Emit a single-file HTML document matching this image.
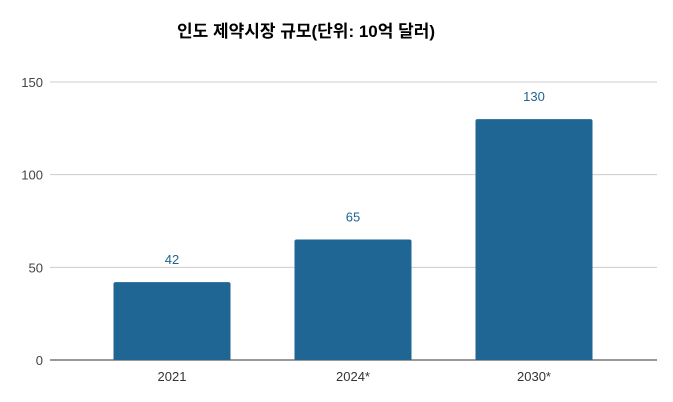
<!DOCTYPE html>
<html><head><meta charset="utf-8">
<style>
body{margin:0;background:#fff;}
svg{display:block;font-family:"Liberation Sans","Noto Sans CJK KR",sans-serif;}
</style></head>
<body>
<svg id="chart" width="673" height="402" viewBox="0 0 673 402">
<text x="306" y="37" text-anchor="middle" font-size="17" font-weight="bold" fill="#000" font-family="'Liberation Sans','Noto Sans CJK KR',sans-serif">인도 제약시장 규모(단위: 10억 달러)</text>
<g id="grid"></g>
<g id="bars"></g>
</svg>
<script>
const categories = ["2021", "2024*", "2030*"];
const values = [42, 65, 130];
const yTicks = [0, 50, 100, 150];
const ns = "http://www.w3.org/2000/svg";
const y0 = 360, y150 = 82;
function yScale(v){ return y0 - (v/150)*(y0-y150); }
function xCenter(i){ return 172 + i*181; }
const bw = 117;
const grid = document.getElementById('grid');
const bars = document.getElementById('bars');
function mk(tag, attrs, parent){ const e=document.createElementNS(ns,tag); for(const k in attrs) e.setAttribute(k,attrs[k]); parent.appendChild(e); return e; }
yTicks.forEach(t=>{
  const y=yScale(t);
  const l=mk('line',{x1:50,x2:657,y1:y,y2:y,stroke:t===0?'#333':'#ccc','stroke-width':1},grid);
  
  
  const tx=mk('text',{x:43,y:y+5,'text-anchor':'end','font-size':13,fill:'#444'},grid);
  tx.textContent=t;
  
  
});
categories.forEach((c,i)=>{
  const cx=xCenter(i), y=yScale(values[i]);
  const r=mk('path',{d:`M${cx-bw/2},${y0} V${y+2} Q${cx-bw/2},${y} ${cx-bw/2+2},${y} H${cx+bw/2-2} Q${cx+bw/2},${y} ${cx+bw/2},${y+2} V${y0} Z`,fill:'#1f6694'},bars);
  
  
  const v=mk('text',{x:cx,y:y-18,'text-anchor':'middle','font-size':13,fill:'#1f6391'},bars);
  v.textContent=values[i];
  
  
  const xl=mk('text',{x:cx,y:381,'text-anchor':'middle','font-size':13,fill:'#333'},bars);
  xl.textContent=c;
  
  
});
</script>
</body></html>
